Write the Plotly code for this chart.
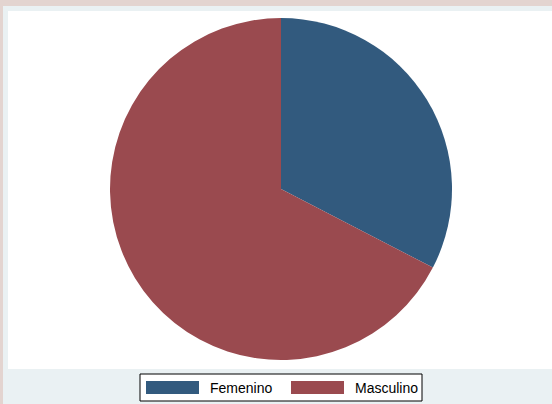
import plotly.graph_objects as go

# Data
categories = ["Femenino", "Masculino"]
values = [32.6, 67.4]
colors = ["#325A7E", "#9A4A4F"]

W, H = 552, 404

def px(x):
    return x / W

def py(y):
    return 1 - y / H

fig = go.Figure()
fig.add_trace(go.Pie(
    labels=categories,
    values=values,
    sort=False,
    direction="clockwise",
    rotation=0,
    marker=dict(colors=colors, line=dict(width=0)),
    textinfo="none",
    hoverinfo="label+percent",
    showlegend=False,
    domain=dict(x=[px(110), px(452)], y=[py(360), py(18)]),
))

shapes = [
    # outer frame (light blue-gray)
    dict(type="rect", xref="paper", yref="paper", x0=px(3), x1=px(W), y0=py(H), y1=py(6),
         fillcolor="#EAF1F3", line=dict(width=0), layer="below"),
    # white plot region
    dict(type="rect", xref="paper", yref="paper", x0=px(8), x1=px(W), y0=py(369), y1=py(11),
         fillcolor="#FFFFFF", line=dict(width=0), layer="below"),
    # legend box
    dict(type="rect", xref="paper", yref="paper", x0=px(140), x1=px(422), y0=py(401), y1=py(374),
         fillcolor="#FFFFFF", line=dict(width=1, color="#000000"), layer="above"),
]

annotations = []
key_x = [146, 291]
text_x = [208, 353]
for i, cat in enumerate(categories):
    shapes.append(dict(type="rect", xref="paper", yref="paper",
                       x0=px(key_x[i]), x1=px(key_x[i] + 53), y0=py(394), y1=py(381),
                       fillcolor=colors[i], line=dict(width=0), layer="above"))
    annotations.append(dict(xref="paper", yref="paper", x=px(text_x[i]), y=py(387.5),
                            text=cat, showarrow=False, xanchor="left", yanchor="middle",
                            font=dict(family="Liberation Sans, Arial, sans-serif", size=14, color="#000000")))

fig.update_layout(
    width=W, height=H,
    margin=dict(l=0, r=0, t=0, b=0),
    paper_bgcolor="#E3D4D0",
    plot_bgcolor="#FFFFFF",
    shapes=shapes,
    annotations=annotations,
    showlegend=False,
)

fig.write_html(
    "out.html",
    config={"displayModeBar": False, "responsive": False},
    post_script="document.body.style.margin='0';document.body.style.overflow='hidden';",
)
